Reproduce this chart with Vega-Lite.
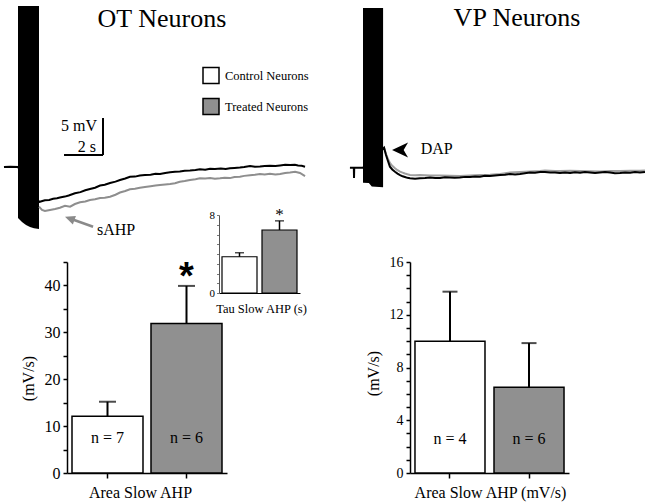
{
  "$schema": "https://vega.github.io/schema/vega-lite/v6.json",
  "width": 648,
  "height": 504,
  "autosize": {"type": "none"},
  "padding": 0,
  "background": "white",
  "config": {
    "view": {"stroke": null},
    "font": "Liberation Serif",
    "axis": {"labelColor": "black", "titleColor": "black", "domainColor": "black", "tickColor": "black", "grid": false, "labelFont": "Liberation Serif", "titleFont": "Liberation Serif", "titleFontWeight": "normal"},
    "text": {"font": "Liberation Serif", "color": "black"}
  },
  "datasets": {
    "traces": [
      {"panel": "OT", "cond": "Control", "t": -0.72, "v": 0.0},
      {"panel": "OT", "cond": "Control", "t": -0.4, "v": 0.03},
      {"panel": "OT", "cond": "Control", "t": 0, "v": 0.0},
      {"panel": "OT", "cond": "Control", "t": 1.08, "v": -4.73},
      {"panel": "OT", "cond": "Control", "t": 1.25, "v": -4.6},
      {"panel": "OT", "cond": "Control", "t": 1.38, "v": -4.5},
      {"panel": "OT", "cond": "Control", "t": 1.6, "v": -4.45},
      {"panel": "OT", "cond": "Control", "t": 1.8, "v": -4.3},
      {"panel": "OT", "cond": "Control", "t": 2.0, "v": -4.22},
      {"panel": "OT", "cond": "Control", "t": 2.15, "v": -4.12},
      {"panel": "OT", "cond": "Control", "t": 2.4, "v": -4.0},
      {"panel": "OT", "cond": "Control", "t": 2.6, "v": -3.85},
      {"panel": "OT", "cond": "Control", "t": 2.92, "v": -3.55},
      {"panel": "OT", "cond": "Control", "t": 3.2, "v": -3.4},
      {"panel": "OT", "cond": "Control", "t": 3.45, "v": -3.15},
      {"panel": "OT", "cond": "Control", "t": 3.69, "v": -2.97},
      {"panel": "OT", "cond": "Control", "t": 3.95, "v": -2.8},
      {"panel": "OT", "cond": "Control", "t": 4.21, "v": -2.5},
      {"panel": "OT", "cond": "Control", "t": 4.45, "v": -2.4},
      {"panel": "OT", "cond": "Control", "t": 4.72, "v": -2.16},
      {"panel": "OT", "cond": "Control", "t": 5.0, "v": -1.98},
      {"panel": "OT", "cond": "Control", "t": 5.23, "v": -1.76},
      {"panel": "OT", "cond": "Control", "t": 5.5, "v": -1.55},
      {"panel": "OT", "cond": "Control", "t": 5.74, "v": -1.31},
      {"panel": "OT", "cond": "Control", "t": 6.0, "v": -1.3},
      {"panel": "OT", "cond": "Control", "t": 6.25, "v": -1.15},
      {"panel": "OT", "cond": "Control", "t": 6.51, "v": -1.08},
      {"panel": "OT", "cond": "Control", "t": 6.8, "v": -1.05},
      {"panel": "OT", "cond": "Control", "t": 7.05, "v": -0.92},
      {"panel": "OT", "cond": "Control", "t": 7.28, "v": -0.95},
      {"panel": "OT", "cond": "Control", "t": 7.55, "v": -0.8},
      {"panel": "OT", "cond": "Control", "t": 7.8, "v": -0.7},
      {"panel": "OT", "cond": "Control", "t": 8.05, "v": -0.64},
      {"panel": "OT", "cond": "Control", "t": 8.3, "v": -0.6},
      {"panel": "OT", "cond": "Control", "t": 8.55, "v": -0.5},
      {"panel": "OT", "cond": "Control", "t": 8.82, "v": -0.47},
      {"panel": "OT", "cond": "Control", "t": 9.1, "v": -0.4},
      {"panel": "OT", "cond": "Control", "t": 9.33, "v": -0.31},
      {"panel": "OT", "cond": "Control", "t": 9.6, "v": -0.38},
      {"panel": "OT", "cond": "Control", "t": 9.85, "v": -0.25},
      {"panel": "OT", "cond": "Control", "t": 10.1, "v": -0.27},
      {"panel": "OT", "cond": "Control", "t": 10.4, "v": -0.2},
      {"panel": "OT", "cond": "Control", "t": 10.65, "v": -0.28},
      {"panel": "OT", "cond": "Control", "t": 10.87, "v": -0.18},
      {"panel": "OT", "cond": "Control", "t": 11.1, "v": -0.12},
      {"panel": "OT", "cond": "Control", "t": 11.38, "v": -0.07},
      {"panel": "OT", "cond": "Control", "t": 11.6, "v": 0.0},
      {"panel": "OT", "cond": "Control", "t": 11.9, "v": 0.14},
      {"panel": "OT", "cond": "Control", "t": 12.15, "v": 0.02},
      {"panel": "OT", "cond": "Control", "t": 12.41, "v": 0.07},
      {"panel": "OT", "cond": "Control", "t": 12.65, "v": 0.15},
      {"panel": "OT", "cond": "Control", "t": 12.92, "v": 0.18},
      {"panel": "OT", "cond": "Control", "t": 13.2, "v": 0.12},
      {"panel": "OT", "cond": "Control", "t": 13.44, "v": 0.2},
      {"panel": "OT", "cond": "Control", "t": 13.7, "v": 0.3},
      {"panel": "OT", "cond": "Control", "t": 13.95, "v": 0.27},
      {"panel": "OT", "cond": "Control", "t": 14.2, "v": 0.3},
      {"panel": "OT", "cond": "Control", "t": 14.36, "v": 0.2},
      {"panel": "OT", "cond": "Control", "t": 14.55, "v": 0.16},
      {"panel": "OT", "cond": "Control", "t": 14.72, "v": 0.04},
      {"panel": "OT", "cond": "Treated", "t": 1.08, "v": -5.36},
      {"panel": "OT", "cond": "Treated", "t": 1.23, "v": -5.81},
      {"panel": "OT", "cond": "Treated", "t": 1.38, "v": -5.95},
      {"panel": "OT", "cond": "Treated", "t": 1.64, "v": -5.81},
      {"panel": "OT", "cond": "Treated", "t": 1.9, "v": -5.68},
      {"panel": "OT", "cond": "Treated", "t": 2.15, "v": -5.5},
      {"panel": "OT", "cond": "Treated", "t": 2.41, "v": -5.23},
      {"panel": "OT", "cond": "Treated", "t": 2.67, "v": -5.36},
      {"panel": "OT", "cond": "Treated", "t": 2.92, "v": -5.0},
      {"panel": "OT", "cond": "Treated", "t": 3.18, "v": -4.77},
      {"panel": "OT", "cond": "Treated", "t": 3.45, "v": -4.65},
      {"panel": "OT", "cond": "Treated", "t": 3.69, "v": -4.46},
      {"panel": "OT", "cond": "Treated", "t": 3.95, "v": -4.35},
      {"panel": "OT", "cond": "Treated", "t": 4.21, "v": -4.19},
      {"panel": "OT", "cond": "Treated", "t": 4.45, "v": -4.15},
      {"panel": "OT", "cond": "Treated", "t": 4.72, "v": -4.01},
      {"panel": "OT", "cond": "Treated", "t": 5.0, "v": -3.75},
      {"panel": "OT", "cond": "Treated", "t": 5.23, "v": -3.45},
      {"panel": "OT", "cond": "Treated", "t": 5.5, "v": -3.25},
      {"panel": "OT", "cond": "Treated", "t": 5.74, "v": -3.01},
      {"panel": "OT", "cond": "Treated", "t": 6.0, "v": -2.95},
      {"panel": "OT", "cond": "Treated", "t": 6.25, "v": -2.8},
      {"panel": "OT", "cond": "Treated", "t": 6.51, "v": -2.7},
      {"panel": "OT", "cond": "Treated", "t": 6.8, "v": -2.6},
      {"panel": "OT", "cond": "Treated", "t": 7.05, "v": -2.5},
      {"panel": "OT", "cond": "Treated", "t": 7.28, "v": -2.43},
      {"panel": "OT", "cond": "Treated", "t": 7.55, "v": -2.35},
      {"panel": "OT", "cond": "Treated", "t": 7.8, "v": -2.3},
      {"panel": "OT", "cond": "Treated", "t": 8.05, "v": -2.2},
      {"panel": "OT", "cond": "Treated", "t": 8.3, "v": -2.0},
      {"panel": "OT", "cond": "Treated", "t": 8.55, "v": -1.9},
      {"panel": "OT", "cond": "Treated", "t": 8.82, "v": -1.76},
      {"panel": "OT", "cond": "Treated", "t": 9.1, "v": -1.65},
      {"panel": "OT", "cond": "Treated", "t": 9.33, "v": -1.53},
      {"panel": "OT", "cond": "Treated", "t": 9.6, "v": -1.55},
      {"panel": "OT", "cond": "Treated", "t": 9.85, "v": -1.49},
      {"panel": "OT", "cond": "Treated", "t": 10.1, "v": -1.6},
      {"panel": "OT", "cond": "Treated", "t": 10.36, "v": -1.53},
      {"panel": "OT", "cond": "Treated", "t": 10.6, "v": -1.45},
      {"panel": "OT", "cond": "Treated", "t": 10.87, "v": -1.5},
      {"panel": "OT", "cond": "Treated", "t": 11.1, "v": -1.35},
      {"panel": "OT", "cond": "Treated", "t": 11.38, "v": -1.31},
      {"panel": "OT", "cond": "Treated", "t": 11.6, "v": -1.2},
      {"panel": "OT", "cond": "Treated", "t": 11.9, "v": -1.1},
      {"panel": "OT", "cond": "Treated", "t": 12.15, "v": -1.05},
      {"panel": "OT", "cond": "Treated", "t": 12.41, "v": -0.95},
      {"panel": "OT", "cond": "Treated", "t": 12.65, "v": -1.0},
      {"panel": "OT", "cond": "Treated", "t": 12.92, "v": -0.9},
      {"panel": "OT", "cond": "Treated", "t": 13.2, "v": -1.0},
      {"panel": "OT", "cond": "Treated", "t": 13.44, "v": -0.95},
      {"panel": "OT", "cond": "Treated", "t": 13.7, "v": -0.8},
      {"panel": "OT", "cond": "Treated", "t": 13.95, "v": -0.75},
      {"panel": "OT", "cond": "Treated", "t": 14.21, "v": -0.64},
      {"panel": "OT", "cond": "Treated", "t": 14.46, "v": -0.81},
      {"panel": "OT", "cond": "Treated", "t": 14.72, "v": -1.22},
      {"panel": "VP", "cond": "Control", "t": -0.67, "v": 0.05},
      {"panel": "VP", "cond": "Control", "t": -0.47, "v": 0.05},
      {"panel": "VP", "cond": "Control", "t": -0.46, "v": -1.35},
      {"panel": "VP", "cond": "Control", "t": -0.45, "v": 0.05},
      {"panel": "VP", "cond": "Control", "t": 0, "v": 0.05},
      {"panel": "VP", "cond": "Control", "t": 1.08, "v": 2.74},
      {"panel": "VP", "cond": "Control", "t": 1.18, "v": 1.76},
      {"panel": "VP", "cond": "Control", "t": 1.28, "v": 0.95},
      {"panel": "VP", "cond": "Control", "t": 1.38, "v": 0.18},
      {"panel": "VP", "cond": "Control", "t": 1.5, "v": -0.2},
      {"panel": "VP", "cond": "Control", "t": 1.64, "v": -0.5},
      {"panel": "VP", "cond": "Control", "t": 1.77, "v": -0.75},
      {"panel": "VP", "cond": "Control", "t": 1.9, "v": -0.95},
      {"panel": "VP", "cond": "Control", "t": 2.03, "v": -1.12},
      {"panel": "VP", "cond": "Control", "t": 2.15, "v": -1.22},
      {"panel": "VP", "cond": "Control", "t": 2.28, "v": -1.33},
      {"panel": "VP", "cond": "Control", "t": 2.41, "v": -1.39},
      {"panel": "VP", "cond": "Control", "t": 2.67, "v": -1.45},
      {"panel": "VP", "cond": "Control", "t": 2.92, "v": -1.39},
      {"panel": "VP", "cond": "Control", "t": 3.18, "v": -1.35},
      {"panel": "VP", "cond": "Control", "t": 3.44, "v": -1.28},
      {"panel": "VP", "cond": "Control", "t": 3.7, "v": -1.35},
      {"panel": "VP", "cond": "Control", "t": 3.95, "v": -1.35},
      {"panel": "VP", "cond": "Control", "t": 4.2, "v": -1.25},
      {"panel": "VP", "cond": "Control", "t": 4.46, "v": -1.28},
      {"panel": "VP", "cond": "Control", "t": 4.7, "v": -1.32},
      {"panel": "VP", "cond": "Control", "t": 4.97, "v": -1.28},
      {"panel": "VP", "cond": "Control", "t": 5.23, "v": -1.2},
      {"panel": "VP", "cond": "Control", "t": 5.49, "v": -1.22},
      {"panel": "VP", "cond": "Control", "t": 5.75, "v": -1.15},
      {"panel": "VP", "cond": "Control", "t": 6.0, "v": -1.18},
      {"panel": "VP", "cond": "Control", "t": 6.25, "v": -1.05},
      {"panel": "VP", "cond": "Control", "t": 6.51, "v": -1.08},
      {"panel": "VP", "cond": "Control", "t": 6.77, "v": -1.0},
      {"panel": "VP", "cond": "Control", "t": 7.03, "v": -0.95},
      {"panel": "VP", "cond": "Control", "t": 7.28, "v": -0.9},
      {"panel": "VP", "cond": "Control", "t": 7.54, "v": -0.81},
      {"panel": "VP", "cond": "Control", "t": 7.8, "v": -0.88},
      {"panel": "VP", "cond": "Control", "t": 8.05, "v": -0.81},
      {"panel": "VP", "cond": "Control", "t": 8.3, "v": -0.7},
      {"panel": "VP", "cond": "Control", "t": 8.56, "v": -0.61},
      {"panel": "VP", "cond": "Control", "t": 8.82, "v": -0.65},
      {"panel": "VP", "cond": "Control", "t": 9.08, "v": -0.55},
      {"panel": "VP", "cond": "Control", "t": 9.33, "v": -0.54},
      {"panel": "VP", "cond": "Control", "t": 9.6, "v": -0.62},
      {"panel": "VP", "cond": "Control", "t": 9.85, "v": -0.6},
      {"panel": "VP", "cond": "Control", "t": 10.1, "v": -0.68},
      {"panel": "VP", "cond": "Control", "t": 10.36, "v": -0.6},
      {"panel": "VP", "cond": "Control", "t": 10.62, "v": -0.66},
      {"panel": "VP", "cond": "Control", "t": 10.87, "v": -0.58},
      {"panel": "VP", "cond": "Control", "t": 11.13, "v": -0.64},
      {"panel": "VP", "cond": "Control", "t": 11.38, "v": -0.55},
      {"panel": "VP", "cond": "Control", "t": 11.64, "v": -0.6},
      {"panel": "VP", "cond": "Control", "t": 11.9, "v": -0.66},
      {"panel": "VP", "cond": "Control", "t": 12.15, "v": -0.61},
      {"panel": "VP", "cond": "Control", "t": 12.41, "v": -0.55},
      {"panel": "VP", "cond": "Control", "t": 12.67, "v": -0.62},
      {"panel": "VP", "cond": "Control", "t": 12.92, "v": -0.7},
      {"panel": "VP", "cond": "Control", "t": 13.18, "v": -0.68},
      {"panel": "VP", "cond": "Control", "t": 13.44, "v": -0.6},
      {"panel": "VP", "cond": "Control", "t": 13.7, "v": -0.64},
      {"panel": "VP", "cond": "Control", "t": 13.95, "v": -0.55},
      {"panel": "VP", "cond": "Control", "t": 14.2, "v": -0.6},
      {"panel": "VP", "cond": "Control", "t": 14.46, "v": -0.54},
      {"panel": "VP", "cond": "Treated", "t": 1.08, "v": 2.74},
      {"panel": "VP", "cond": "Treated", "t": 1.18, "v": 1.89},
      {"panel": "VP", "cond": "Treated", "t": 1.28, "v": 1.22},
      {"panel": "VP", "cond": "Treated", "t": 1.38, "v": 0.68},
      {"panel": "VP", "cond": "Treated", "t": 1.5, "v": 0.3},
      {"panel": "VP", "cond": "Treated", "t": 1.64, "v": -0.04},
      {"panel": "VP", "cond": "Treated", "t": 1.77, "v": -0.3},
      {"panel": "VP", "cond": "Treated", "t": 1.9, "v": -0.5},
      {"panel": "VP", "cond": "Treated", "t": 2.03, "v": -0.62},
      {"panel": "VP", "cond": "Treated", "t": 2.15, "v": -0.74},
      {"panel": "VP", "cond": "Treated", "t": 2.28, "v": -0.85},
      {"panel": "VP", "cond": "Treated", "t": 2.41, "v": -0.95},
      {"panel": "VP", "cond": "Treated", "t": 2.67, "v": -0.98},
      {"panel": "VP", "cond": "Treated", "t": 2.92, "v": -0.95},
      {"panel": "VP", "cond": "Treated", "t": 3.44, "v": -1.0},
      {"panel": "VP", "cond": "Treated", "t": 3.95, "v": -1.01},
      {"panel": "VP", "cond": "Treated", "t": 4.46, "v": -1.05},
      {"panel": "VP", "cond": "Treated", "t": 4.97, "v": -1.08},
      {"panel": "VP", "cond": "Treated", "t": 5.49, "v": -1.0},
      {"panel": "VP", "cond": "Treated", "t": 6.0, "v": -0.95},
      {"panel": "VP", "cond": "Treated", "t": 6.51, "v": -0.9},
      {"panel": "VP", "cond": "Treated", "t": 7.03, "v": -0.81},
      {"panel": "VP", "cond": "Treated", "t": 7.54, "v": -0.61},
      {"panel": "VP", "cond": "Treated", "t": 8.05, "v": -0.55},
      {"panel": "VP", "cond": "Treated", "t": 8.56, "v": -0.47},
      {"panel": "VP", "cond": "Treated", "t": 9.08, "v": -0.4},
      {"panel": "VP", "cond": "Treated", "t": 9.33, "v": -0.34},
      {"panel": "VP", "cond": "Treated", "t": 9.85, "v": -0.42},
      {"panel": "VP", "cond": "Treated", "t": 10.1, "v": -0.41},
      {"panel": "VP", "cond": "Treated", "t": 10.62, "v": -0.38},
      {"panel": "VP", "cond": "Treated", "t": 11.13, "v": -0.41},
      {"panel": "VP", "cond": "Treated", "t": 11.64, "v": -0.44},
      {"panel": "VP", "cond": "Treated", "t": 12.15, "v": -0.47},
      {"panel": "VP", "cond": "Treated", "t": 12.67, "v": -0.42},
      {"panel": "VP", "cond": "Treated", "t": 13.18, "v": -0.41},
      {"panel": "VP", "cond": "Treated", "t": 13.7, "v": -0.38},
      {"panel": "VP", "cond": "Treated", "t": 14.2, "v": -0.36},
      {"panel": "VP", "cond": "Treated", "t": 14.46, "v": -0.34}
    ],
    "train": [
      {"panel": "OT", "t": 0, "v": 21.76, "v2": -6.89},
      {"panel": "OT", "t": 0.205, "v": 21.76, "v2": -7.43},
      {"panel": "OT", "t": 0.41, "v": 21.76, "v2": -7.84},
      {"panel": "OT", "t": 0.615, "v": 21.76, "v2": -8.11},
      {"panel": "OT", "t": 0.82, "v": 21.76, "v2": -8.28},
      {"panel": "OT", "t": 1.077, "v": 21.76, "v2": -8.38},
      {"panel": "VP", "t": 0, "v": 21.62, "v2": -2.0},
      {"panel": "VP", "t": 0.3, "v": 21.62, "v2": -2.03},
      {"panel": "VP", "t": 0.45, "v": 21.62, "v2": -2.5},
      {"panel": "VP", "t": 1.03, "v": 21.62, "v2": -2.6}
    ],
    "scalebar": [
      {"t": 4.36, "v": 1.62, "t2": 4.36, "v2": 6.62},
      {"t": 2.36, "v": 1.62, "t2": 4.36, "v2": 1.62}
    ],
    "arrows": [
      {"key": "sahp", "t": 3.85, "v": -8.07, "t2": 2.7, "v2": -6.99}
    ],
    "heads": [
      {"key": "sahp", "t": 2.41, "v": -6.72},
      {"key": "dap", "t": 1.9, "v": 2.43}
    ],
    "notes": [
      {"key": "otTitle", "label": "OT Neurons", "t": 7.38, "v": 18.92},
      {"key": "vpTitle", "label": "VP Neurons", "t": 7.9, "v": 19.19},
      {"key": "sb", "label": "5 mV", "t": 4.05, "v": 4.9},
      {"key": "sb", "label": "2 s", "t": 4.0, "v": 1.99},
      {"key": "sahp", "label": "sAHP", "t": 4.05, "v": -9.19},
      {"key": "dap", "label": "DAP", "t": 2.96, "v": 1.89}
    ],
    "bars": [
      {"panel": "OT", "group": "Control Neurons", "mean": 12.1, "upper": 15.2, "n": "n = 7"},
      {"panel": "OT", "group": "Treated Neurons", "mean": 31.9, "upper": 39.9, "n": "n = 6"},
      {"panel": "Tau", "group": "Control Neurons", "mean": 3.72, "upper": 4.13, "n": ""},
      {"panel": "Tau", "group": "Treated Neurons", "mean": 6.46, "upper": 7.4, "n": ""},
      {"panel": "VP", "group": "Control Neurons", "mean": 10.0, "upper": 13.75, "n": "n = 4"},
      {"panel": "VP", "group": "Treated Neurons", "mean": 6.5, "upper": 9.85, "n": "n = 6"}
    ]
  },
  "resolve": {"scale": {"x": "independent", "y": "independent"}, "axis": {"x": "independent", "y": "independent"}},
  "layer": [
    {
      "encoding": {
        "x": {"field": "t", "type": "quantitative", "scale": {"domain": [0, 10], "range": [18, 213], "nice": false, "zero": false}, "axis": null},
        "y": {"field": "v", "type": "quantitative", "scale": {"domain": [0, 5], "range": [167, 130], "nice": false, "zero": false}, "axis": null}
      },
      "layer": [
        {"data": {"name": "train"}, "transform": [{"filter": "datum.panel === 'OT'"}], "mark": {"type": "area", "color": "black"}, "encoding": {"y2": {"field": "v2"}}},
        {"data": {"name": "traces"}, "transform": [{"filter": "datum.panel === 'OT' && datum.cond === 'Treated'"}], "mark": {"type": "line", "color": "#8e8e8e", "strokeWidth": 2}, "encoding": {}},
        {"data": {"name": "traces"}, "transform": [{"filter": "datum.panel === 'OT' && datum.cond === 'Control'"}], "mark": {"type": "line", "color": "black", "strokeWidth": 2}, "encoding": {}},
        {"data": {"name": "scalebar"}, "mark": {"type": "rule", "color": "black", "strokeWidth": 2}, "encoding": {"x2": {"field": "t2"}, "y2": {"field": "v2"}}},
        {"data": {"name": "arrows"}, "mark": {"type": "rule", "color": "#8a8a8a", "strokeWidth": 2.5}, "encoding": {"x2": {"field": "t2"}, "y2": {"field": "v2"}}},
        {"data": {"name": "heads"}, "transform": [{"filter": "datum.key === 'sahp'"}], "mark": {"type": "point", "shape": "M0,0L2,-0.9L2,0.9Z", "size": 100, "filled": true, "color": "#8a8a8a", "opacity": 1, "angle": 20}, "encoding": {}},
        {"data": {"name": "notes"}, "transform": [{"filter": "datum.key === 'otTitle'"}], "mark": {"type": "text", "fontSize": 26, "align": "center", "baseline": "alphabetic"}, "encoding": {"text": {"field": "label"}}},
        {"data": {"name": "notes"}, "transform": [{"filter": "datum.key === 'sb'"}], "mark": {"type": "text", "fontSize": 16, "align": "right", "baseline": "alphabetic"}, "encoding": {"text": {"field": "label"}}},
        {"data": {"name": "notes"}, "transform": [{"filter": "datum.key === 'sahp'"}], "mark": {"type": "text", "fontSize": 16, "align": "left", "baseline": "alphabetic"}, "encoding": {"text": {"field": "label"}}}
      ]
    },
    {
      "encoding": {
        "x": {"field": "t", "type": "quantitative", "scale": {"domain": [0, 10], "range": [363, 558], "nice": false, "zero": false}, "axis": null},
        "y": {"field": "v", "type": "quantitative", "scale": {"domain": [0, 5], "range": [168, 131], "nice": false, "zero": false}, "axis": null}
      },
      "layer": [
        {"data": {"name": "train"}, "transform": [{"filter": "datum.panel === 'VP'"}], "mark": {"type": "area", "color": "black"}, "encoding": {"y2": {"field": "v2"}}},
        {"data": {"name": "traces"}, "transform": [{"filter": "datum.panel === 'VP' && datum.cond === 'Treated'"}], "mark": {"type": "line", "color": "#a0a0a0", "strokeWidth": 2}, "encoding": {}},
        {"data": {"name": "traces"}, "transform": [{"filter": "datum.panel === 'VP' && datum.cond === 'Control'"}], "mark": {"type": "line", "color": "black", "strokeWidth": 2}, "encoding": {}},
        {"data": {"name": "heads"}, "transform": [{"filter": "datum.key === 'dap'"}], "mark": {"type": "point", "shape": "M-1,0L1,-0.95L0.45,0L1,0.95Z", "size": 256, "filled": true, "color": "black", "opacity": 1}, "encoding": {}},
        {"data": {"name": "notes"}, "transform": [{"filter": "datum.key === 'vpTitle'"}], "mark": {"type": "text", "fontSize": 26, "align": "center", "baseline": "alphabetic"}, "encoding": {"text": {"field": "label"}}},
        {"data": {"name": "notes"}, "transform": [{"filter": "datum.key === 'dap'"}], "mark": {"type": "text", "fontSize": 16, "align": "left", "baseline": "alphabetic"}, "encoding": {"text": {"field": "label"}}}
      ]
    },
    {
      "data": {"name": "bars"},
      "transform": [{"filter": "datum.panel === 'OT'"}],
      "encoding": {
        "x": {"field": "group", "type": "nominal", "scale": {"type": "band", "domain": ["Control Neurons", "Treated Neurons"], "range": [67, 227], "paddingInner": 0.1013, "paddingOuter": 0.0633},
          "axis": {"orient": "bottom", "offset": -31, "labels": false, "tickSize": 5, "tickWidth": 1.5, "domainWidth": 1.5, "title": "Area Slow AHP", "titleFontSize": 16, "titleX": 140, "titleY": 19, "titleAlign": "center", "titleBaseline": "middle"}}
      },
      "layer": [
        {"mark": {"type": "bar", "stroke": "black", "strokeWidth": 1.5},
          "encoding": {
            "y": {"field": "mean", "type": "quantitative", "scale": {"domain": [0, 45], "range": [473, 262], "nice": false, "zero": false},
              "axis": {"orient": "left", "offset": -67, "values": [0, 5, 10, 15, 20, 25, 30, 35, 40, 45], "labelExpr": "datum.value % 10 === 0 ? datum.label : ''", "labelOverlap": false, "tickSize": 4, "tickWidth": 1.5, "domainWidth": 1.5, "labelFontSize": 16, "labelPadding": 3, "title": "(mV/s)", "titleFontSize": 16, "titleAngle": -90, "titleX": -39, "titleY": 378, "titleAlign": "center", "titleBaseline": "middle"}},
            "fill": {"field": "group", "type": "nominal", "scale": {"domain": ["Control Neurons", "Treated Neurons"], "range": ["white", "#909090"]},
              "legend": {"orient": "none", "legendX": 202, "legendY": 66.5, "title": null, "symbolType": "square", "symbolSize": 256, "symbolStrokeColor": "black", "symbolStrokeWidth": 1.5, "symbolOpacity": 1, "labelFontSize": 12.5, "labelFont": "Liberation Serif", "labelColor": "black", "rowPadding": 9, "labelOffset": 5, "padding": 0}}}},
        {"mark": {"type": "rule", "color": "black", "strokeWidth": 2},
          "encoding": {
            "y": {"field": "mean", "type": "quantitative", "scale": {"domain": [0, 45], "range": [473, 262], "nice": false, "zero": false},
              "axis": {"orient": "left", "offset": -67, "values": [0, 5, 10, 15, 20, 25, 30, 35, 40, 45], "labelExpr": "datum.value % 10 === 0 ? datum.label : ''", "labelOverlap": false, "tickSize": 4, "tickWidth": 1.5, "domainWidth": 1.5, "labelFontSize": 16, "labelPadding": 3, "title": "(mV/s)", "titleFontSize": 16, "titleAngle": -90, "titleX": -39, "titleY": 378, "titleAlign": "center", "titleBaseline": "middle"}},
            "y2": {"field": "upper"}}},
        {"mark": {"type": "tick", "orient": "horizontal", "size": 17, "thickness": 2, "color": "black"},
          "encoding": {
            "y": {"field": "upper", "type": "quantitative", "scale": {"domain": [0, 45], "range": [473, 262], "nice": false, "zero": false},
              "axis": {"orient": "left", "offset": -67, "values": [0, 5, 10, 15, 20, 25, 30, 35, 40, 45], "labelExpr": "datum.value % 10 === 0 ? datum.label : ''", "labelOverlap": false, "tickSize": 4, "tickWidth": 1.5, "domainWidth": 1.5, "labelFontSize": 16, "labelPadding": 3, "title": "(mV/s)", "titleFontSize": 16, "titleAngle": -90, "titleX": -39, "titleY": 378, "titleAlign": "center", "titleBaseline": "middle"}}}},
        {"mark": {"type": "text", "fontSize": 16, "baseline": "middle"},
          "encoding": {
            "text": {"field": "n"},
            "y": {"datum": 7.46, "type": "quantitative", "scale": {"domain": [0, 45], "range": [473, 262], "nice": false, "zero": false},
              "axis": {"orient": "left", "offset": -67, "values": [0, 5, 10, 15, 20, 25, 30, 35, 40, 45], "labelExpr": "datum.value % 10 === 0 ? datum.label : ''", "labelOverlap": false, "tickSize": 4, "tickWidth": 1.5, "domainWidth": 1.5, "labelFontSize": 16, "labelPadding": 3, "title": "(mV/s)", "titleFontSize": 16, "titleAngle": -90, "titleX": -39, "titleY": 378, "titleAlign": "center", "titleBaseline": "middle"}}}},
        {"transform": [{"filter": "datum.group === 'Treated Neurons'"}], "mark": {"type": "text", "fontSize": 38, "font": "Liberation Sans", "fontWeight": "bold", "baseline": "alphabetic"},
          "encoding": {
            "text": {"value": "*"},
            "y": {"datum": 39.3, "type": "quantitative", "scale": {"domain": [0, 45], "range": [473, 262], "nice": false, "zero": false},
              "axis": {"orient": "left", "offset": -67, "values": [0, 5, 10, 15, 20, 25, 30, 35, 40, 45], "labelExpr": "datum.value % 10 === 0 ? datum.label : ''", "labelOverlap": false, "tickSize": 4, "tickWidth": 1.5, "domainWidth": 1.5, "labelFontSize": 16, "labelPadding": 3, "title": "(mV/s)", "titleFontSize": 16, "titleAngle": -90, "titleX": -39, "titleY": 378, "titleAlign": "center", "titleBaseline": "middle"}}}}
      ]
    },
    {
      "data": {"name": "bars"},
      "transform": [{"filter": "datum.panel === 'Tau'"}],
      "encoding": {
        "x": {"field": "group", "type": "nominal", "scale": {"type": "band", "domain": ["Control Neurons", "Treated Neurons"], "range": [219, 300], "paddingInner": 0.125, "paddingOuter": 0.075},
          "axis": {"orient": "bottom", "offset": -211, "labels": false, "ticks": false, "domainWidth": 1, "title": "Tau Slow AHP (s)", "titleFontSize": 12.5, "titleX": 261, "titleY": 15, "titleAlign": "center", "titleBaseline": "middle"}}
      },
      "layer": [
        {"mark": {"type": "bar", "stroke": "black", "strokeWidth": 1.2},
          "encoding": {
            "y": {"field": "mean", "type": "quantitative", "scale": {"domain": [0, 8], "range": [293, 215], "nice": false, "zero": false},
              "axis": {"orient": "left", "offset": -219, "values": [0, 1, 2, 3, 4, 5, 6, 7, 8], "labelExpr": "datum.value === 0 || datum.value === 8 ? datum.label : ''", "labelOverlap": false, "tickSize": 2.5, "tickWidth": 1, "tickColor": "#777777", "domainWidth": 1, "domainColor": "#555555", "labelFontSize": 11, "labelPadding": 2, "title": null}},
            "fill": {"field": "group", "type": "nominal", "scale": {"domain": ["Control Neurons", "Treated Neurons"], "range": ["white", "#909090"]}, "legend": null}}},
        {"mark": {"type": "rule", "color": "black", "strokeWidth": 1.5},
          "encoding": {
            "y": {"field": "mean", "type": "quantitative", "scale": {"domain": [0, 8], "range": [293, 215], "nice": false, "zero": false},
              "axis": {"orient": "left", "offset": -219, "values": [0, 1, 2, 3, 4, 5, 6, 7, 8], "labelExpr": "datum.value === 0 || datum.value === 8 ? datum.label : ''", "labelOverlap": false, "tickSize": 2.5, "tickWidth": 1, "tickColor": "#777777", "domainWidth": 1, "domainColor": "#555555", "labelFontSize": 11, "labelPadding": 2, "title": null}},
            "y2": {"field": "upper"}}},
        {"mark": {"type": "tick", "orient": "horizontal", "size": 9, "thickness": 1.5, "color": "black"},
          "encoding": {
            "y": {"field": "upper", "type": "quantitative", "scale": {"domain": [0, 8], "range": [293, 215], "nice": false, "zero": false},
              "axis": {"orient": "left", "offset": -219, "values": [0, 1, 2, 3, 4, 5, 6, 7, 8], "labelExpr": "datum.value === 0 || datum.value === 8 ? datum.label : ''", "labelOverlap": false, "tickSize": 2.5, "tickWidth": 1, "tickColor": "#777777", "domainWidth": 1, "domainColor": "#555555", "labelFontSize": 11, "labelPadding": 2, "title": null}}}},
        {"transform": [{"filter": "datum.group === 'Treated Neurons'"}], "mark": {"type": "text", "fontSize": 17, "baseline": "alphabetic"},
          "encoding": {
            "text": {"value": "*"},
            "y": {"datum": 7.45, "type": "quantitative", "scale": {"domain": [0, 8], "range": [293, 215], "nice": false, "zero": false},
              "axis": {"orient": "left", "offset": -219, "values": [0, 1, 2, 3, 4, 5, 6, 7, 8], "labelExpr": "datum.value === 0 || datum.value === 8 ? datum.label : ''", "labelOverlap": false, "tickSize": 2.5, "tickWidth": 1, "tickColor": "#777777", "domainWidth": 1, "domainColor": "#555555", "labelFontSize": 11, "labelPadding": 2, "title": null}}}}
      ]
    },
    {
      "data": {"name": "bars"},
      "transform": [{"filter": "datum.panel === 'VP'"}],
      "encoding": {
        "x": {"field": "group", "type": "nominal", "scale": {"type": "band", "domain": ["Control Neurons", "Treated Neurons"], "range": [410, 569], "paddingInner": 0.114, "paddingOuter": 0.063},
          "axis": {"orient": "bottom", "offset": -31, "labels": false, "tickSize": 5, "tickWidth": 1.5, "domainWidth": 1.5, "title": "Area Slow AHP (mV/s)", "titleFontSize": 16, "titleX": 490, "titleY": 19, "titleAlign": "center", "titleBaseline": "middle"}}
      },
      "layer": [
        {"mark": {"type": "bar", "stroke": "black", "strokeWidth": 1.5},
          "encoding": {
            "y": {"field": "mean", "type": "quantitative", "scale": {"domain": [0, 16], "range": [473, 262], "nice": false, "zero": false},
              "axis": {"orient": "left", "offset": -410, "values": [0, 1, 2, 3, 4, 5, 6, 7, 8, 9, 10, 11, 12, 13, 14, 15, 16], "labelExpr": "datum.value % 4 === 0 ? datum.label : ''", "labelOverlap": false, "tickSize": 4, "tickWidth": 1.5, "domainWidth": 1.5, "labelFontSize": 14, "labelPadding": 3, "title": "(mV/s)", "titleFontSize": 16, "titleAngle": -90, "titleX": -37, "titleY": 373, "titleAlign": "center", "titleBaseline": "middle"}},
            "fill": {"field": "group", "type": "nominal", "scale": {"domain": ["Control Neurons", "Treated Neurons"], "range": ["white", "#909090"]}, "legend": null}}},
        {"mark": {"type": "rule", "color": "black", "strokeWidth": 2},
          "encoding": {
            "y": {"field": "mean", "type": "quantitative", "scale": {"domain": [0, 16], "range": [473, 262], "nice": false, "zero": false},
              "axis": {"orient": "left", "offset": -410, "values": [0, 1, 2, 3, 4, 5, 6, 7, 8, 9, 10, 11, 12, 13, 14, 15, 16], "labelExpr": "datum.value % 4 === 0 ? datum.label : ''", "labelOverlap": false, "tickSize": 4, "tickWidth": 1.5, "domainWidth": 1.5, "labelFontSize": 14, "labelPadding": 3, "title": "(mV/s)", "titleFontSize": 16, "titleAngle": -90, "titleX": -37, "titleY": 373, "titleAlign": "center", "titleBaseline": "middle"}},
            "y2": {"field": "upper"}}},
        {"mark": {"type": "tick", "orient": "horizontal", "size": 15, "thickness": 2, "color": "black"},
          "encoding": {
            "y": {"field": "upper", "type": "quantitative", "scale": {"domain": [0, 16], "range": [473, 262], "nice": false, "zero": false},
              "axis": {"orient": "left", "offset": -410, "values": [0, 1, 2, 3, 4, 5, 6, 7, 8, 9, 10, 11, 12, 13, 14, 15, 16], "labelExpr": "datum.value % 4 === 0 ? datum.label : ''", "labelOverlap": false, "tickSize": 4, "tickWidth": 1.5, "domainWidth": 1.5, "labelFontSize": 14, "labelPadding": 3, "title": "(mV/s)", "titleFontSize": 16, "titleAngle": -90, "titleX": -37, "titleY": 373, "titleAlign": "center", "titleBaseline": "middle"}}}},
        {"mark": {"type": "text", "fontSize": 16, "baseline": "middle"},
          "encoding": {
            "text": {"field": "n"},
            "y": {"datum": 2.58, "type": "quantitative", "scale": {"domain": [0, 16], "range": [473, 262], "nice": false, "zero": false},
              "axis": {"orient": "left", "offset": -410, "values": [0, 1, 2, 3, 4, 5, 6, 7, 8, 9, 10, 11, 12, 13, 14, 15, 16], "labelExpr": "datum.value % 4 === 0 ? datum.label : ''", "labelOverlap": false, "tickSize": 4, "tickWidth": 1.5, "domainWidth": 1.5, "labelFontSize": 14, "labelPadding": 3, "title": "(mV/s)", "titleFontSize": 16, "titleAngle": -90, "titleX": -37, "titleY": 373, "titleAlign": "center", "titleBaseline": "middle"}}}}
      ]
    }
  ]
}
